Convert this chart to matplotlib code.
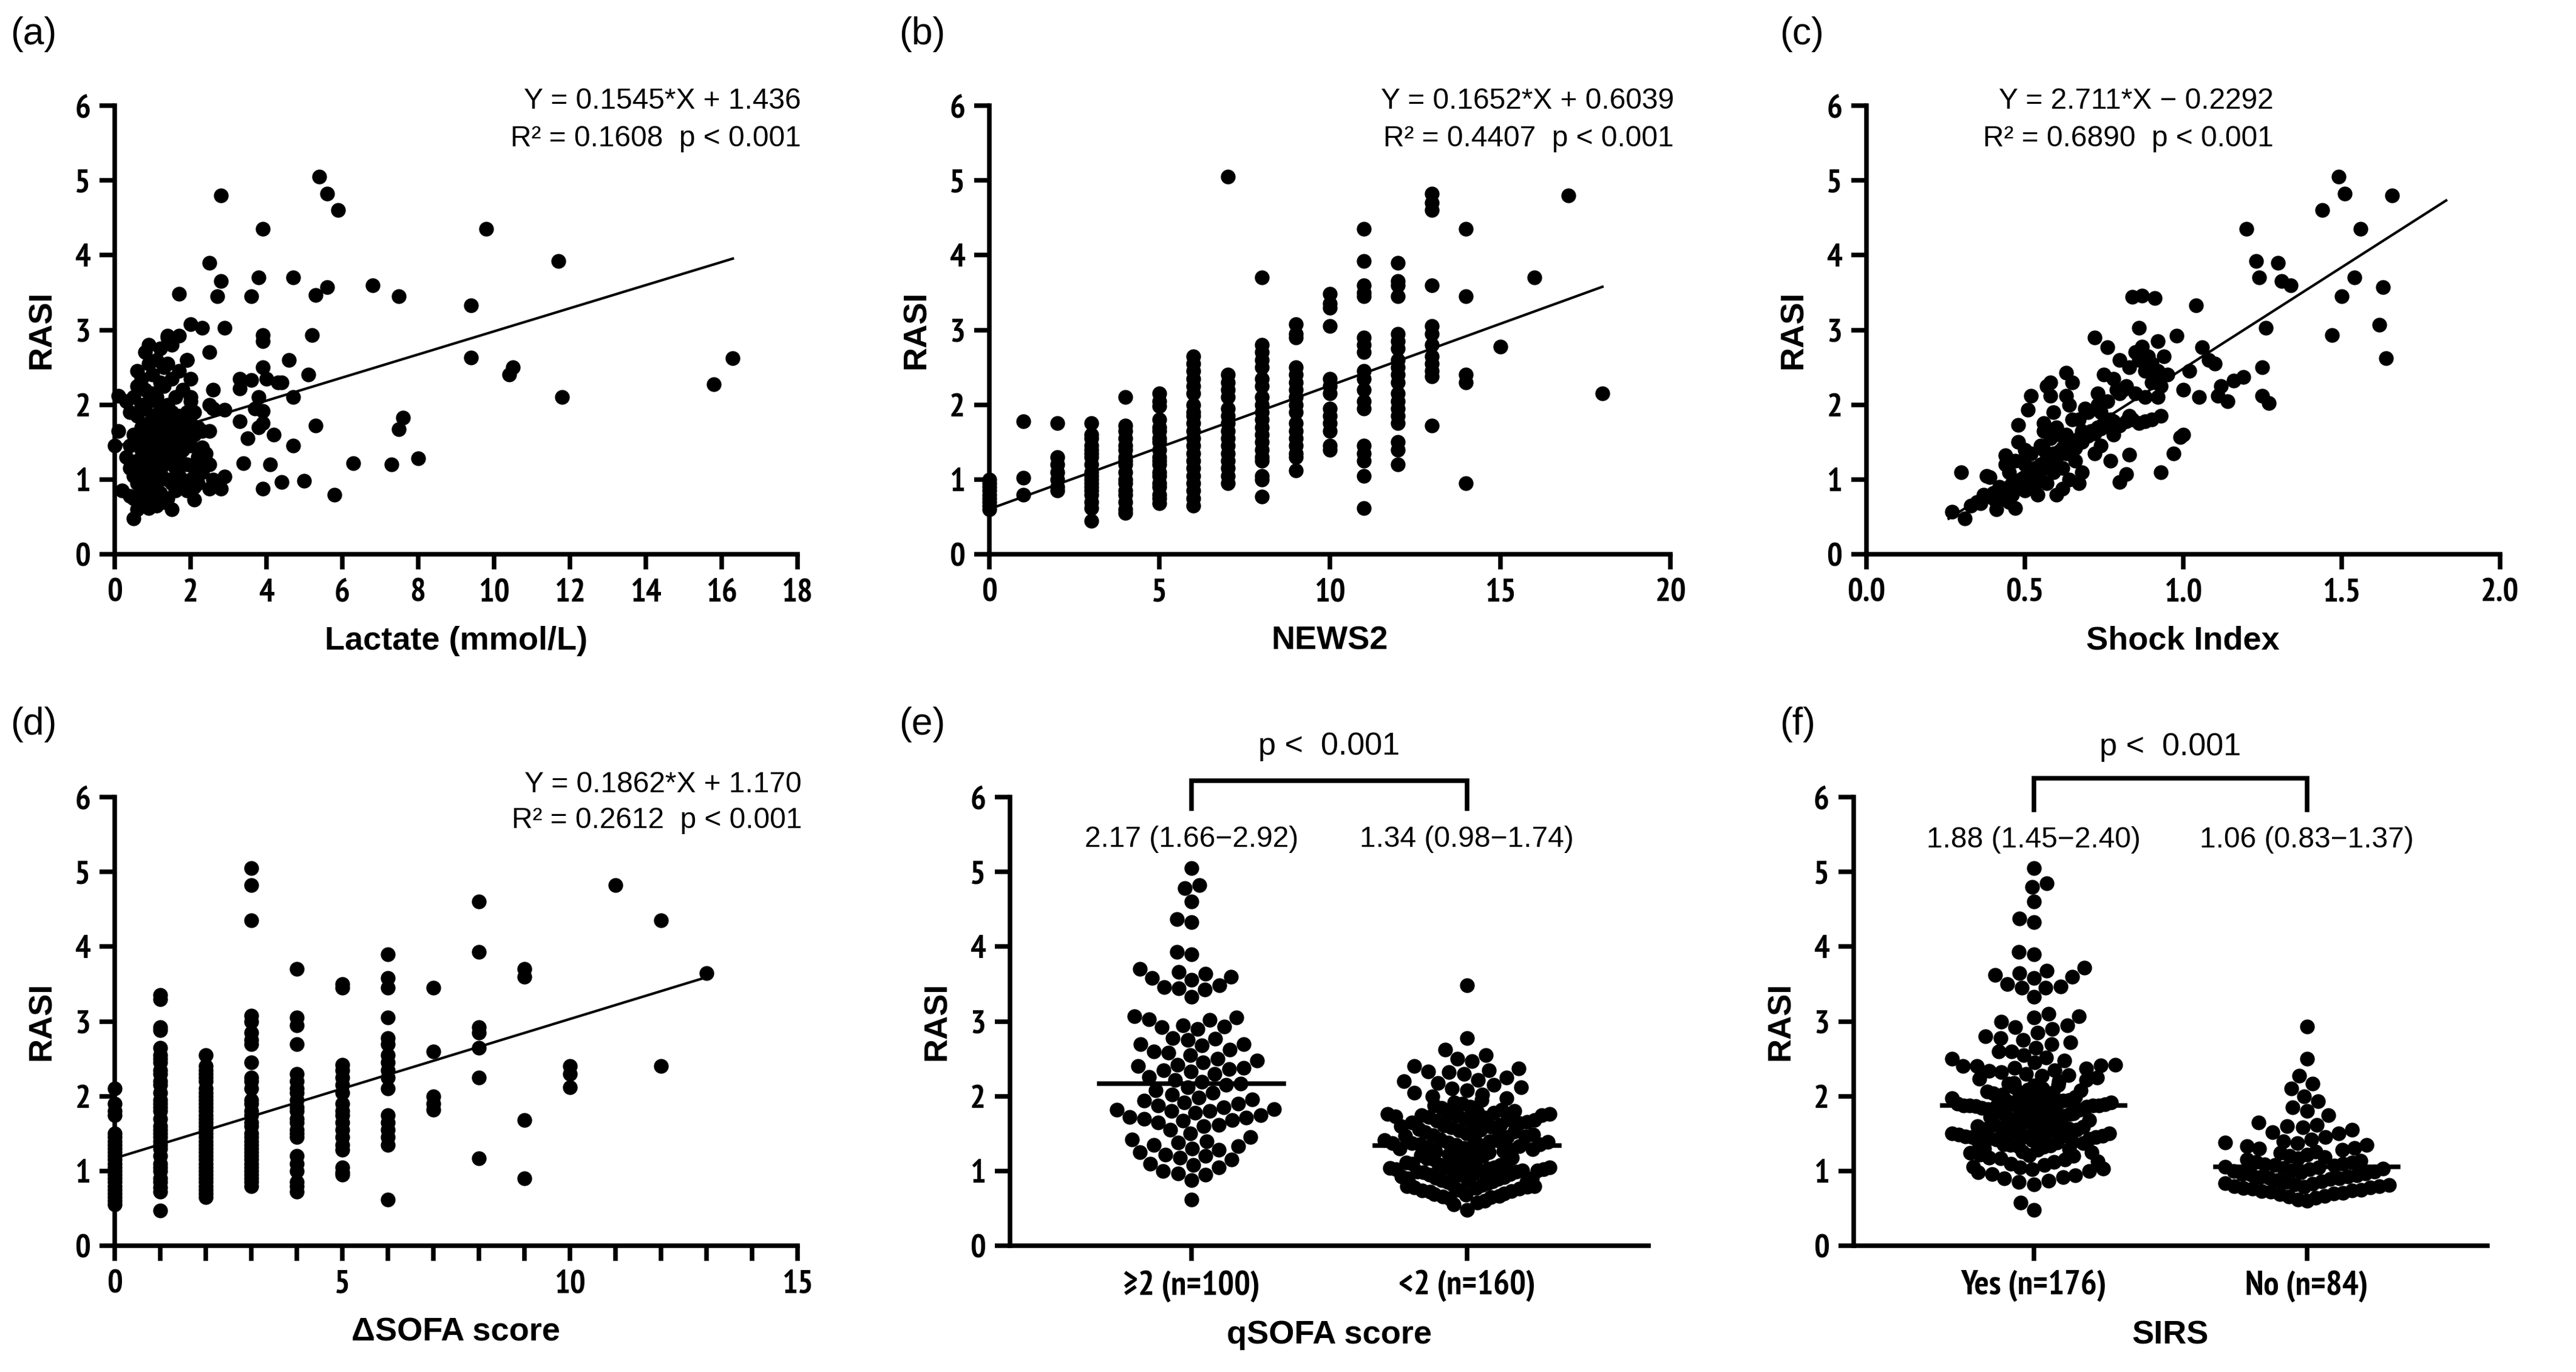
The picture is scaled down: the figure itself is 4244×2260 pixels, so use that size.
import numpy as np
import matplotlib
matplotlib.use('Agg')
import matplotlib.pyplot as plt
from matplotlib import font_manager as fm
from matplotlib.ticker import MultipleLocator, FormatStrFormatter

# pick a condensed sans for the tick labels (Arial Narrow look)
_have = {f.name for f in fm.fontManager.ttflist}
_narrow = [n for n in ['Liberation Sans Narrow', 'Arial Narrow', 'PT Sans Narrow', 'Roboto Condensed',
                       'Archivo Narrow'] if n in _have]
NARROW = _narrow[:1] + ['Liberation Sans', 'DejaVu Sans']
WIDE = ['Liberation Sans', 'DejaVu Sans']

# ---------------- data ----------------
# (a) Lactate vs RASI, (x, y) pairs
lactate_pts = [
    # sparse points
    (5.4, 5.05), (5.6, 4.82), (5.9, 4.6), (2.8, 4.8), (3.9, 4.35), (9.8, 4.35), (11.7, 3.92),
    (2.5, 3.9), (3.8, 3.7), (4.7, 3.7), (2.8, 3.65), (6.8, 3.6), (5.6, 3.57), (3.6, 3.45),
    (2.7, 3.45), (5.3, 3.47), (7.5, 3.45), (1.7, 3.48), (9.4, 3.33), (2.0, 3.08), (2.3, 3.03),
    (2.9, 3.03), (5.2, 2.93), (3.9, 2.93), (3.9, 2.85), (1.4, 2.92), (1.7, 2.92), (9.4, 2.63),
    (16.3, 2.62), (10.5, 2.5), (10.4, 2.4), (4.6, 2.6), (3.9, 2.5), (5.1, 2.4), (2.5, 2.7),
    (1.9, 2.6), (4.0, 2.35), (4.3, 2.3), (4.4, 2.3), (3.3, 2.35), (3.6, 2.33), (15.8, 2.27),
    (11.8, 2.1), (4.7, 2.1), (3.8, 2.1), (3.3, 2.22), (2.6, 2.2), (2.0, 2.1), (2.0, 2.05),
    (2.5, 2.0), (2.9, 1.93), (3.9, 1.92), (3.7, 1.95), (3.3, 1.78), (3.8, 1.7), (3.9, 1.75),
    (7.6, 1.83), (7.5, 1.67), (5.3, 1.72), (4.2, 1.6), (3.5, 1.55), (4.7, 1.45), (2.3, 1.43),
    (2.4, 1.35), (2.4, 1.25), (8.0, 1.28), (6.3, 1.22), (7.3, 1.2), (4.1, 1.2), (3.4, 1.22),
    (2.9, 1.04), (2.3, 1.1), (4.4, 0.97), (5.0, 0.98), (3.9, 0.88), (5.8, 0.8), (2.8, 0.88),
    (2.5, 0.88), (2.1, 0.73), (0.5, 0.48),
    # dense cluster
    (0.1, 2.12), (0.1, 1.65), (0.0, 1.45), (0.2, 0.85), (0.3, 2.05), (0.3, 1.3), (0.4, 1.9),
    (0.4, 1.45), (0.4, 1.15), (0.4, 0.78), (0.5, 2.1), (0.5, 1.6), (0.5, 1.05), (0.5, 0.75),
    (0.6, 2.45), (0.6, 2.25), (0.6, 1.85), (0.6, 1.55), (0.6, 1.25), (0.6, 0.95), (0.6, 0.6),
    (0.7, 2.35), (0.7, 2.0), (0.7, 1.7), (0.7, 1.4), (0.7, 1.1), (0.7, 0.85), (0.8, 2.7),
    (0.8, 2.2), (0.8, 1.95), (0.8, 1.6), (0.8, 1.35), (0.8, 1.0), (0.8, 0.7), (0.9, 2.8),
    (0.9, 2.55), (0.9, 2.05), (0.9, 1.75), (0.9, 1.5), (0.9, 1.2), (0.9, 0.9), (0.9, 0.62),
    (1.0, 2.4), (1.0, 2.15), (1.0, 1.85), (1.0, 1.55), (1.0, 1.3), (1.0, 1.05), (1.0, 0.8),
    (1.1, 2.6), (1.1, 2.1), (1.1, 1.7), (1.1, 1.45), (1.1, 1.15), (1.1, 0.95), (1.1, 0.65),
    (1.2, 2.75), (1.2, 2.3), (1.2, 1.95), (1.2, 1.6), (1.2, 1.35), (1.2, 1.1), (1.2, 0.82),
    (1.3, 2.5), (1.3, 2.25), (1.3, 1.8), (1.3, 1.5), (1.3, 1.2), (1.3, 0.7), (1.4, 2.9),
    (1.4, 2.55), (1.4, 2.0), (1.4, 1.65), (1.4, 1.4), (1.4, 1.0), (1.4, 0.75), (1.5, 2.8),
    (1.5, 2.35), (1.5, 1.9), (1.5, 1.55), (1.5, 1.25), (1.5, 0.95), (1.5, 0.6), (1.6, 2.1),
    (1.6, 1.75), (1.6, 1.45), (1.6, 1.15), (1.6, 0.85), (1.7, 2.45), (1.7, 1.85), (1.7, 1.6),
    (1.7, 1.3), (1.7, 1.05), (1.8, 2.2), (1.8, 1.7), (1.8, 1.4), (1.8, 0.9), (1.9, 2.6),
    (1.9, 1.9), (1.9, 1.55), (1.9, 1.2), (1.9, 0.85), (2.0, 2.35), (2.0, 1.75), (2.0, 1.45),
    (2.0, 1.0), (2.1, 1.9), (2.1, 1.6), (2.1, 1.15), (2.1, 0.9), (2.2, 1.7), (2.2, 1.3),
    (2.2, 0.95), (2.3, 1.65), (2.5, 1.65), (2.6, 1.95), (2.5, 1.2), (2.6, 1.0),
]

# (b) NEWS2 score columns and RASI values in each column
news2_scores = [0, 1, 2, 3, 4, 5, 6, 7, 8, 9, 10, 11, 12, 13, 14, 15, 16, 17, 18]
news2_rasi = [
    [0.6, 0.65, 0.7, 0.75, 0.8, 0.85, 0.9, 0.95, 1.0],
    [1.78, 1.02, 0.8],
    [1.75, 1.3, 1.2, 1.1, 1.0, 0.9, 0.85],
    [1.75, 1.6, 1.55, 1.45, 1.4, 1.35, 1.3, 1.2, 1.1, 1.05, 1.0, 0.95, 0.9, 0.85, 0.8, 0.7, 0.62, 0.45],
    [2.1, 1.72, 1.65, 1.55, 1.45, 1.4, 1.3, 1.25, 1.2, 1.1, 1.0, 0.95, 0.85, 0.8, 0.7, 0.6, 0.55],
    [2.15, 2.05, 1.98, 1.8, 1.7, 1.65, 1.55, 1.5, 1.4, 1.3, 1.25, 1.2, 1.1, 1.05, 0.95, 0.9, 0.8, 0.75, 0.68],
    [2.65, 2.55, 2.45, 2.35, 2.25, 2.15, 2.0, 1.9, 1.85, 1.75, 1.65, 1.55, 1.45, 1.35, 1.25, 1.15, 1.05,
     0.95, 0.85, 0.75, 0.65],
    [5.05, 2.4, 2.3, 2.2, 2.1, 1.95, 1.85, 1.75, 1.65, 1.55, 1.45, 1.35, 1.25, 1.15, 1.05, 0.95],
    [3.7, 2.8, 2.7, 2.6, 2.5, 2.35, 2.25, 2.1, 2.0, 1.9, 1.8, 1.7, 1.6, 1.5, 1.4, 1.3, 1.25, 1.05, 1.0, 0.77],
    [3.08, 2.95, 2.9, 2.5, 2.4, 2.3, 2.2, 2.1, 2.0, 1.9, 1.75, 1.65, 1.55, 1.45, 1.35, 1.3, 1.12],
    [3.48, 3.35, 3.3, 3.05, 2.35, 2.25, 2.15, 1.95, 1.85, 1.75, 1.65, 1.45, 1.4],
    [4.35, 3.92, 3.6, 3.5, 3.45, 2.9, 2.8, 2.7, 2.45, 2.35, 2.2, 2.05, 1.95, 1.45, 1.35, 1.25, 1.05, 0.62],
    [3.9, 3.65, 3.6, 3.45, 2.95, 2.85, 2.75, 2.6, 2.5, 2.4, 2.3, 2.15, 2.05, 1.95, 1.85, 1.75, 1.5, 1.4, 1.2],
    [4.82, 4.7, 4.6, 3.6, 3.05, 2.95, 2.8, 2.65, 2.55, 2.45, 2.38, 1.72],
    [4.35, 3.45, 2.4, 2.3, 0.95],
    [2.78],
    [3.7],
    [4.8],
    [2.15],
]

# (c) Shock index vs RASI, (x, y) pairs
shock_pts = [
    (0.27, 0.57), (0.3, 1.1), (0.31, 0.48), (0.33, 0.65), (0.35, 0.7), (0.37, 0.8), (0.38, 1.05),
    (0.39, 1.03), (0.4, 0.75), (0.41, 0.6), (0.42, 0.9), (0.44, 1.2), (0.44, 1.32), (0.45, 0.7),
    (0.46, 0.95), (0.47, 0.62), (0.48, 1.5), (0.48, 1.73), (0.49, 1.25), (0.5, 0.85), (0.5, 1.4),
    (0.51, 1.93), (0.52, 2.12), (0.53, 1.05), (0.54, 0.8), (0.55, 1.45), (0.56, 1.75), (0.56, 1.65),
    (0.57, 2.25), (0.58, 2.3), (0.58, 2.12), (0.59, 1.9), (0.6, 0.8), (0.6, 1.3), (0.61, 1.6),
    (0.62, 0.88), (0.63, 2.12), (0.63, 2.43), (0.64, 2.0), (0.65, 2.3), (0.65, 1.8), (0.66, 1.5),
    (0.67, 0.95), (0.68, 1.65), (0.69, 1.95), (0.72, 2.9), (0.73, 2.15), (0.74, 1.9), (0.75, 2.4),
    (0.76, 2.77), (0.77, 1.25), (0.78, 2.35), (0.8, 2.6), (0.8, 0.97), (0.81, 2.2), (0.82, 1.07),
    (0.83, 1.33), (0.83, 1.85), (0.84, 3.44), (0.85, 2.7), (0.86, 3.03), (0.87, 3.46), (0.87, 2.78),
    (0.88, 2.1), (0.89, 2.65), (0.9, 2.3), (0.91, 3.43), (0.92, 2.85), (0.92, 2.1), (0.93, 1.85),
    (0.93, 1.1), (0.94, 2.65), (0.95, 2.4), (0.97, 1.35), (0.98, 2.92), (0.99, 1.57), (1.0, 1.6),
    (1.0, 2.2), (1.02, 2.45), (1.04, 3.33), (1.05, 2.1), (1.06, 2.77), (1.08, 2.6), (1.1, 2.55),
    (1.11, 2.12), (1.12, 2.25), (1.14, 2.05), (1.16, 2.32), (1.19, 2.37), (1.2, 4.35), (1.23, 3.92),
    (1.24, 3.7), (1.25, 2.5), (1.25, 2.12), (1.26, 3.03), (1.27, 2.02), (1.3, 3.9), (1.31, 3.65),
    (1.34, 3.6), (1.44, 4.6), (1.47, 2.93), (1.49, 5.05), (1.5, 3.45), (1.51, 4.82), (1.54, 3.7),
    (1.56, 4.35), (1.62, 3.07), (1.63, 3.57), (1.64, 2.62), (1.66, 4.8),
    # dense band
    (0.36, 0.68), (0.38, 0.78), (0.4, 0.82), (0.41, 0.7), (0.42, 0.78), (0.43, 0.85), (0.44, 0.75),
    (0.45, 0.88), (0.46, 0.8), (0.47, 0.92), (0.48, 0.98), (0.49, 0.9), (0.5, 1.02), (0.51, 0.95),
    (0.52, 1.08), (0.53, 1.15), (0.54, 1.1), (0.55, 1.2), (0.56, 1.15), (0.57, 1.28), (0.58, 1.22),
    (0.59, 1.35), (0.6, 1.3), (0.61, 1.38), (0.62, 1.42), (0.63, 1.35), (0.64, 1.45), (0.65, 1.5),
    (0.66, 1.42), (0.67, 1.55), (0.68, 1.5), (0.69, 1.6), (0.7, 1.58), (0.71, 1.65), (0.72, 1.62),
    (0.73, 1.7), (0.74, 1.68), (0.75, 1.75), (0.76, 1.72), (0.77, 1.8), (0.78, 1.78), (0.8, 1.72),
    (0.82, 1.78), (0.84, 1.8), (0.86, 1.75), (0.88, 1.78), (0.9, 1.8),
    (0.45, 1.1), (0.47, 1.25), (0.5, 1.2), (0.52, 1.35), (0.53, 0.9), (0.55, 1.0), (0.56, 1.4),
    (0.57, 0.95), (0.58, 1.55), (0.59, 1.1), (0.6, 1.7), (0.62, 1.15), (0.63, 1.6), (0.64, 1.0),
    (0.66, 1.25), (0.67, 1.8), (0.68, 1.1), (0.7, 1.9), (0.72, 1.35), (0.73, 2.0), (0.74, 1.45),
    (0.76, 2.05), (0.78, 1.6), (0.79, 2.2), (0.8, 2.15), (0.82, 2.25), (0.83, 2.5), (0.85, 2.15),
    (0.86, 2.6), (0.88, 2.45), (0.9, 2.55), (0.91, 2.35), (0.92, 2.45), (0.93, 2.25),
]

# (d) delta SOFA columns and RASI values
dsofa_scores = [0, 1, 2, 3, 4, 5, 6, 7, 8, 9, 10, 11, 12, 13]
dsofa_rasi = [
    [2.1, 1.9, 1.8, 1.75, 1.5, 1.45, 1.4, 1.35, 1.3, 1.25, 1.2, 1.15, 1.1, 1.05, 1.0, 0.95, 0.9, 0.85,
     0.8, 0.75, 0.7, 0.65, 0.6, 0.55],
    [3.35, 3.3, 2.92, 2.88, 2.65, 2.55, 2.5, 2.45, 2.35, 2.3, 2.2, 2.15, 2.05, 1.95, 1.9, 1.85, 1.8, 1.7,
     1.6, 1.55, 1.5, 1.45, 1.4, 1.35, 1.3, 1.2, 1.1, 1.05, 1.0, 0.9, 0.85, 0.78, 0.72, 0.47],
    [2.55, 2.4, 2.35, 2.3, 2.25, 2.2, 2.1, 2.05, 2.0, 1.95, 1.9, 1.85, 1.8, 1.75, 1.7, 1.65, 1.6, 1.55,
     1.5, 1.45, 1.4, 1.35, 1.3, 1.25, 1.2, 1.15, 1.1, 1.05, 1.0, 0.95, 0.9, 0.85, 0.8, 0.75, 0.7, 0.65],
    [5.05, 4.82, 4.35, 3.08, 3.0, 2.85, 2.75, 2.7, 2.45, 2.25, 2.2, 2.1, 1.95, 1.9, 1.8, 1.75, 1.65, 1.6,
     1.5, 1.45, 1.4, 1.35, 1.3, 1.25, 1.2, 1.15, 1.1, 1.05, 1.0, 0.95, 0.9, 0.85, 0.8],
    [3.7, 3.05, 2.95, 2.7, 2.3, 2.2, 2.1, 2.05, 1.95, 1.85, 1.8, 1.7, 1.65, 1.55, 1.5, 1.45, 1.2, 1.1,
     1.0, 0.85, 0.8, 0.72],
    [3.5, 3.45, 2.42, 2.35, 2.25, 2.15, 2.05, 1.9, 1.8, 1.75, 1.65, 1.55, 1.45, 1.35, 1.28, 1.05, 0.98, 0.95],
    [3.9, 3.58, 3.45, 3.05, 2.78, 2.7, 2.55, 2.45, 2.35, 2.25, 2.1, 1.75, 1.65, 1.55, 1.45, 1.35, 0.62],
    [3.45, 2.6, 2.0, 1.9, 1.82],
    [4.6, 3.93, 2.92, 2.85, 2.65, 2.25, 1.17],
    [3.7, 3.6, 1.68, 0.9],
    [2.4, 2.3, 2.12],
    [4.82],
    [4.35, 2.4],
    [3.65],
]

# regression results printed on the panels: slope, intercept
fit_a = (0.1545, 1.436)
fit_b = (0.1652, 0.6039)
fit_c = (2.711, -0.2292)
fit_d = (0.1862, 1.170)
line_c_range = (0.26, 1.83)
eq_text = {
    'a': ['Y = 0.1545*X + 1.436', 'R\u00b2 = 0.1608  p < 0.001'],
    'b': ['Y = 0.1652*X + 0.6039', 'R\u00b2 = 0.4407  p < 0.001'],
    'c': ['Y = 2.711*X \u2212 0.2292', 'R\u00b2 = 0.6890  p < 0.001'],
    'd': ['Y = 0.1862*X + 1.170', 'R\u00b2 = 0.2612  p < 0.001'],
}

# (e) qSOFA groups
qsofa_labels = ['\u22652 (n=100)', '<2 (n=160)']
qsofa_hi = [5.05, 4.82, 4.78, 4.6, 4.37, 4.33, 3.93, 3.9, 3.7, 3.66, 3.64, 3.6, 3.58, 3.56, 3.48, 3.46,
            3.44, 3.43, 3.33, 3.07, 3.05, 3.03, 3.02, 2.95, 2.93,
            2.92, 2.9, 2.78, 2.77, 2.75, 2.7, 2.7, 2.68, 2.62, 2.6, 2.58, 2.55, 2.5, 2.48, 2.45, 2.42, 2.4,
            2.38, 2.36, 2.35, 2.33, 2.3, 2.26, 2.22, 2.19,
            2.17, 2.15, 2.12, 2.08, 2.05, 2.02, 1.98, 1.96, 1.94, 1.92, 1.9, 1.88, 1.85, 1.83, 1.82, 1.8,
            1.8, 1.78, 1.75, 1.72, 1.71, 1.7, 1.68, 1.67,
            1.65, 1.62, 1.6, 1.55, 1.5, 1.45, 1.42, 1.4, 1.38, 1.35, 1.33, 1.3, 1.28, 1.25, 1.22, 1.2,
            1.18, 1.15, 1.1, 1.08, 1.05, 1.0, 0.97, 0.95, 0.88, 0.62]
qsofa_lo = [3.48, 2.78, 2.62, 2.55, 2.5, 2.47, 2.4, 2.37, 2.35, 2.33, 2.32, 2.3, 2.25, 2.22, 2.2, 2.18,
            2.15, 2.12, 2.1, 2.08, 2.05, 2.02, 2.0, 1.97, 1.95, 1.92, 1.9, 1.88, 1.86, 1.84, 1.82, 1.8,
            1.79, 1.78, 1.77, 1.76, 1.76, 1.75, 1.75, 1.74,
            1.73, 1.72, 1.71, 1.7, 1.69, 1.68, 1.67, 1.66, 1.65, 1.64, 1.63, 1.62, 1.61, 1.6, 1.59, 1.58,
            1.56, 1.55, 1.54, 1.53, 1.52, 1.5, 1.49, 1.48, 1.47, 1.46, 1.45, 1.44, 1.43, 1.42, 1.41, 1.4,
            1.39, 1.38, 1.37, 1.37, 1.36, 1.36, 1.35, 1.34,
            1.33, 1.32, 1.31, 1.3, 1.29, 1.28, 1.27, 1.26, 1.25, 1.24, 1.22, 1.21, 1.2, 1.19, 1.18, 1.17,
            1.16, 1.15, 1.14, 1.12, 1.11, 1.1, 1.09, 1.08, 1.07, 1.06, 1.05, 1.05, 1.04, 1.03, 1.03, 1.02,
            1.02, 1.01, 1.01, 1.0, 1.0, 0.99, 0.99, 0.98,
            0.97, 0.96, 0.95, 0.94, 0.93, 0.92, 0.91, 0.9, 0.9, 0.89, 0.88, 0.87, 0.86, 0.85, 0.85, 0.84,
            0.83, 0.82, 0.81, 0.8, 0.8, 0.79, 0.78, 0.77, 0.76, 0.75, 0.74, 0.73, 0.72, 0.7, 0.69, 0.68,
            0.67, 0.66, 0.65, 0.63, 0.6, 0.58, 0.55, 0.48]
qsofa_median = [2.17, 1.34]
qsofa_text = ['2.17 (1.66\u22122.92)', '1.34 (0.98\u22121.74)']

# (f) SIRS groups
sirs_labels = ['Yes (n=176)', 'No (n=84)']
sirs_yes = [5.05, 4.85, 4.8, 4.6, 4.38, 4.33, 3.93, 3.9, 3.72, 3.68, 3.65, 3.62, 3.6, 3.58, 3.5, 3.47,
            3.45, 3.45, 3.33, 3.1, 3.07, 3.05, 3.0, 2.95, 2.92, 2.9, 2.85, 2.8, 2.78, 2.75, 2.72, 2.7,
            2.65, 2.6, 2.6, 2.55, 2.52, 2.5, 2.48, 2.45, 2.42, 2.41, 2.4, 2.4,
            2.38, 2.37, 2.35, 2.34, 2.32, 2.3, 2.28, 2.27, 2.25, 2.23, 2.22, 2.2, 2.18, 2.17, 2.15, 2.14,
            2.12, 2.1, 2.09, 2.08, 2.06, 2.05, 2.04, 2.02, 2.0, 1.99, 1.98, 1.97, 1.96, 1.95, 1.94, 1.93,
            1.93, 1.92, 1.91, 1.9, 1.9, 1.89, 1.89, 1.88, 1.88, 1.88, 1.88, 1.88,
            1.87, 1.86, 1.85, 1.84, 1.83, 1.82, 1.81, 1.8, 1.79, 1.78, 1.77, 1.76, 1.75, 1.74, 1.73, 1.72,
            1.7, 1.69, 1.68, 1.66, 1.65, 1.64, 1.62, 1.61, 1.6, 1.59, 1.58, 1.57, 1.56, 1.55, 1.54, 1.53,
            1.52, 1.51, 1.5, 1.5, 1.49, 1.48, 1.47, 1.47, 1.46, 1.46, 1.45, 1.45,
            1.44, 1.43, 1.42, 1.41, 1.4, 1.39, 1.38, 1.37, 1.36, 1.35, 1.34, 1.33, 1.32, 1.3, 1.29, 1.28,
            1.26, 1.25, 1.24, 1.22, 1.21, 1.2, 1.18, 1.17, 1.15, 1.13, 1.12, 1.1, 1.08, 1.06, 1.05, 1.03,
            1.02, 1.0, 0.98, 0.96, 0.94, 0.92, 0.9, 0.87, 0.85, 0.82, 0.58, 0.48]
sirs_no = [2.93, 2.5, 2.27, 2.17, 2.1, 2.0, 1.93, 1.85, 1.8, 1.75, 1.65, 1.62, 1.6, 1.58, 1.55, 1.52,
           1.5, 1.45, 1.42, 1.4, 1.38,
           1.37, 1.35, 1.33, 1.31, 1.3, 1.28, 1.26, 1.24, 1.22, 1.2, 1.19, 1.17, 1.15, 1.14, 1.12, 1.11,
           1.1, 1.09, 1.08, 1.07, 1.06,
           1.05, 1.04, 1.03, 1.02, 1.01, 1.0, 0.99, 0.98, 0.97, 0.96, 0.95, 0.94, 0.93, 0.92, 0.91, 0.9,
           0.89, 0.88, 0.86, 0.85, 0.84,
           0.83, 0.82, 0.81, 0.8, 0.8, 0.79, 0.78, 0.77, 0.76, 0.75, 0.74, 0.73, 0.72, 0.71, 0.7, 0.69,
           0.67, 0.66, 0.64, 0.62, 0.6]
sirs_median = [1.88, 1.06]
sirs_text = ['1.88 (1.45\u22122.40)', '1.06 (0.83\u22121.37)']

# ---------------- style ----------------
DPI = 300
plt.rcParams['font.family'] = NARROW
plt.rcParams['font.weight'] = 'bold'
plt.rcParams['axes.linewidth'] = 1.8
for k in ['xtick.major.width', 'ytick.major.width', 'xtick.minor.width']:
    plt.rcParams[k] = 1.8
for k in ['xtick.major.size', 'ytick.major.size', 'xtick.minor.size']:
    plt.rcParams[k] = 6
plt.rcParams['xtick.labelsize'] = 13
plt.rcParams['ytick.labelsize'] = 13

MS = 34              # marker area (pt^2)
DOT_D = np.sqrt(MS)  # marker diameter (pt)
LBL = dict(fontsize=13, family=WIDE, fontweight='bold', labelpad=7)
ANN = dict(fontsize=11.5, family=WIDE, fontweight='normal')

fig = plt.figure(figsize=(4244 / DPI, 2260 / DPI), dpi=DPI)

top_y, bot_y, ax_h = 0.596, 0.092, 0.327
ax_a = fig.add_axes([0.0445, top_y, 0.265, ax_h])
ax_b = fig.add_axes([0.384, top_y, 0.2645, ax_h])
ax_c = fig.add_axes([0.7245, top_y, 0.246, ax_h])
ax_d = fig.add_axes([0.0445, bot_y, 0.265, ax_h])
ax_e = fig.add_axes([0.392, bot_y, 0.248, ax_h])
ax_f = fig.add_axes([0.7195, bot_y, 0.246, ax_h])


def base_axes(ax):
    for s in ['top', 'right']:
        ax.spines[s].set_visible(False)
    ax.set_ylim(0, 6)
    ax.yaxis.set_major_locator(MultipleLocator(1))
    ax.set_ylabel('RASI', **LBL)


def fit_text(ax, x, y1, y2, lines):
    ax.text(x, y1, lines[0], ha='right', va='center', clip_on=False, **ANN)
    ax.text(x, y2, lines[1], ha='right', va='center', clip_on=False, **ANN)


def fit_line(ax, fit, x0, x1):
    xs = np.array([x0, x1])
    ax.plot(xs, fit[0] * xs + fit[1], color='black', lw=1.0, zorder=3)


# (a)
base_axes(ax_a)
pa = np.array(lactate_pts)
ax_a.scatter(pa[:, 0], pa[:, 1], s=MS, color='black', lw=0, zorder=2, clip_on=False)
fit_line(ax_a, fit_a, pa[:, 0].min(), pa[:, 0].max())
ax_a.set_xlim(0, 18)
ax_a.xaxis.set_major_locator(MultipleLocator(2))
ax_a.set_xlabel('Lactate (mmol/L)', **LBL)
fit_text(ax_a, 18.1, 6.06, 5.56, eq_text['a'])

# (b)
base_axes(ax_b)
bx = np.concatenate([[s] * len(v) for s, v in zip(news2_scores, news2_rasi)])
by = np.concatenate(news2_rasi)
ax_b.scatter(bx, by, s=MS, color='black', lw=0, zorder=2, clip_on=False)
fit_line(ax_b, fit_b, bx.min(), bx.max())
ax_b.set_xlim(0, 20)
ax_b.xaxis.set_major_locator(MultipleLocator(5))
ax_b.set_xlabel('NEWS2', **LBL)
fit_text(ax_b, 20.1, 6.06, 5.56, eq_text['b'])

# (c)
base_axes(ax_c)
pc = np.array(shock_pts)
ax_c.scatter(pc[:, 0], pc[:, 1], s=MS, color='black', lw=0, zorder=2)
fit_line(ax_c, fit_c, *line_c_range)
ax_c.set_xlim(0, 2)
ax_c.xaxis.set_major_locator(MultipleLocator(0.5))
ax_c.xaxis.set_major_formatter(FormatStrFormatter('%.1f'))
ax_c.set_xlabel('Shock Index', **LBL)
fit_text(ax_c, 1.285, 6.06, 5.56, eq_text['c'])

# (d)
base_axes(ax_d)
dx = np.concatenate([[s] * len(v) for s, v in zip(dsofa_scores, dsofa_rasi)])
dy = np.concatenate(dsofa_rasi)
ax_d.scatter(dx, dy, s=MS, color='black', lw=0, zorder=2, clip_on=False)
fit_line(ax_d, fit_d, dx.min(), dx.max())
ax_d.set_xlim(0, 15)
ax_d.xaxis.set_major_locator(MultipleLocator(5))
ax_d.xaxis.set_minor_locator(MultipleLocator(1))
ax_d.set_xlabel('\u0394SOFA score', **LBL)
fit_text(ax_d, 15.1, 6.17, 5.69, eq_text['d'])


def swarm_x(ax, center, vals, max_hw):
    # beeswarm in pixel space, then squeeze each horizontal band that is wider than +-max_hw
    vals = np.asarray(vals, dtype=float)
    diam = DOT_D * DPI / 72 * 1.02
    ypx = ax.transData.transform(np.column_stack([np.full(len(vals), center), vals]))[:, 1]
    px_per_x = ax.transData.transform((1, 0))[0] - ax.transData.transform((0, 0))[0]
    order = np.argsort(ypx)
    placed = []
    offs = np.zeros(len(vals))
    for k, i in enumerate(order):
        y = ypx[i]
        near = [(px, py) for px, py in placed if abs(py - y) < diam]
        cands = [0.0]
        for px, py in near:
            d = np.sqrt(diam ** 2 - (py - y) ** 2)
            cands += [px + d, px - d]
        sgn = 1 if k % 2 == 0 else -1
        cands.sort(key=lambda c: (round(abs(c), 2), -sgn * c))
        for c in cands:
            if all((c - px) ** 2 + (y - py) ** 2 >= diam ** 2 * 0.999 for px, py in near):
                break
        placed.append((c, y))
        offs[i] = c
    offs = offs / px_per_x
    out = offs.copy()
    for i in range(len(vals)):
        band = np.abs(ypx - ypx[i]) < diam
        wmax = np.abs(offs[band]).max()
        if wmax > max_hw:
            out[i] = offs[i] * max_hw / wmax
    return center + out


def group_panel(ax, groups, labels, medians, texts, xlabel, p_y, br_top, br_bot, txt_y):
    base_axes(ax)
    ax.set_xlim(-0.66, 1.66)
    ax.set_xticks([0, 1])
    ax.set_xticklabels(labels, fontsize=13.5)
    ax.set_xlabel(xlabel, **LBL)
    for i, vals in enumerate(groups):
        xs = swarm_x(ax, i, vals, 0.30)
        ax.scatter(xs, vals, s=MS, color='black', lw=0, zorder=2)
        ax.plot([i - 0.335, i + 0.335], [medians[i], medians[i]], color='black', lw=1.8, zorder=3)
        ax.text(i, txt_y, texts[i], ha='center', va='center', **ANN)
    ax.plot([0, 0, 1, 1], [br_bot, br_top, br_top, br_bot], color='black', lw=1.8,
            clip_on=False, solid_joinstyle='miter')
    ax.text(0.5, p_y, 'p <  0.001', ha='center', va='center', clip_on=False,
            fontsize=12.5, family=WIDE, fontweight='normal')


group_panel(ax_e, [qsofa_hi, qsofa_lo], qsofa_labels, qsofa_median, qsofa_text,
            'qSOFA score', 6.68, 6.22, 5.845, 5.44)
group_panel(ax_f, [sirs_yes, sirs_no], sirs_labels, sirs_median, sirs_text,
            'SIRS', 6.67, 6.25, 5.83, 5.43)

# panel letters
for lab, x, y in [('(a)', 0.004, 0.975), ('(b)', 0.349, 0.975), ('(c)', 0.691, 0.975),
                  ('(d)', 0.004, 0.472), ('(e)', 0.349, 0.472), ('(f)', 0.691, 0.472)]:
    fig.text(x, y, lab, fontsize=15, family=WIDE, fontweight='normal', va='center', ha='left')

fig.savefig('out.png', dpi=DPI)
